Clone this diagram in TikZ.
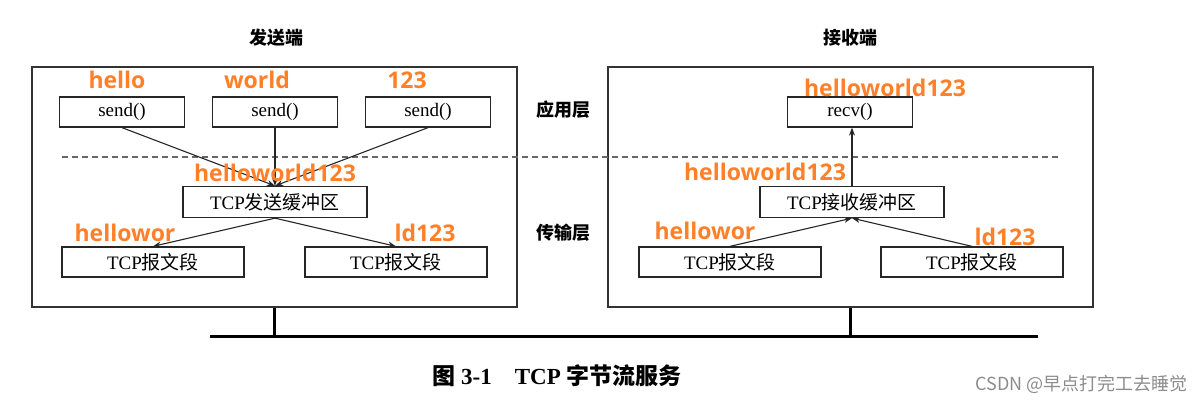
\documentclass[tikz,border=0pt]{standalone}
\usepackage{fontspec}
\setmainfont{Liberation Serif}
\newfontfamily\cjk{Noto Sans CJK SC}
\newfontfamily\lblfont{Open Sans}
\usetikzlibrary{arrows.meta}
\definecolor{lblorange}{RGB}{255,128,40}

\begin{document}
\begin{tikzpicture}[x=1pt, y=-1pt, every node/.style={font=\fontsize{19}{21}\selectfont}, >={Stealth[length=8pt,width=6pt]},
	hostbox/.style={draw=black!80, line width=1.3pt, minimum width=485pt, minimum height=240pt, inner sep=0pt},
	callbox/.style={draw=black!85, line width=1.3pt, minimum width=125pt, minimum height=30pt, inner sep=0pt},
	bufbox/.style={draw=black!85, line width=1.3pt, minimum width=184pt, minimum height=31pt, inner sep=0pt},
	segbox/.style={draw=black!85, line width=1.3pt, minimum width=182pt, minimum height=30pt, inner sep=0pt},
	layerlbl/.style={font=\cjk\bfseries\fontsize{18}{20}\selectfont},
	datalbl/.style={text=lblorange, font=\lblfont\bfseries\fontsize{23}{25}\selectfont, inner sep=0pt},
	conn/.style={->, black!85, line width=1.1pt}]
	\useasboundingbox (0,0) rectangle (1203,404);
	% hosts
	\node[hostbox] (sender) at (274.5,187) {};
	\node[hostbox] (receiver) at (850.5,187) {};
	\node[layerlbl] (sendtitle) at (276,38) {发送端};
	\node[layerlbl] (recvtitle) at (850,38) {接收端};
	\node[layerlbl] (applayer) at (563,110) {应用层};
	\node[layerlbl] (tranlayer) at (563,233) {传输层};
	\coordinate (dashL) at (62,157);
	\coordinate (dashR) at (1060,157);
	\draw[black!60, line width=1.4pt, dash pattern=on 6pt off 4pt] (dashL) -- (dashR);
	% sender side
	\node[callbox] (send1) at (122,112) {send()};
	\node[callbox] (send2) at (275,112) {send()};
	\node[callbox] (send3) at (428,112) {send()};
	\node[bufbox] (sbuf) at (275,202) {TCP{\cjk 发送缓冲区}};
	\node[segbox] (sseg1) at (153,262) {TCP{\cjk 报文段}};
	\node[segbox] (sseg2) at (396,262) {TCP{\cjk 报文段}};
	\draw[conn] (send1.south) -- (sbuf.north);
	\draw[conn] (send2.south) -- (sbuf.north);
	\draw[conn] (send3.south) -- (sbuf.north);
	\draw[conn] (sbuf.south) -- (sseg1.north);
	\draw[conn] (sbuf.south) -- (sseg2.north);
	\node[datalbl] (l1) at (117,80) {hello};
	\node[datalbl] (l2) at (257,80) {world};
	\node[datalbl] (l3) at (407,80) {123};
	\node[datalbl] (l4) at (275,173) {helloworld123};
	\node[datalbl] (l5) at (125,233) {hellowor};
	\node[datalbl] (l6) at (425,233) {ld123};
	% receiver side
	\node[callbox] (recv) at (850,112) {recv()};
	\node[bufbox] (rbuf) at (852,202) {TCP{\cjk 接收缓冲区}};
	\node[segbox] (rseg1) at (730,262) {TCP{\cjk 报文段}};
	\node[segbox] (rseg2) at (972,262) {TCP{\cjk 报文段}};
	\draw[conn] (rbuf.north) -- (rbuf.north |- recv.south);
	\draw[conn] (rseg1.north) -- (rbuf.south);
	\draw[conn] (rseg2.north) -- (rbuf.south);
	\node[datalbl] (r1) at (885,88) {helloworld123};
	\node[datalbl] (r2) at (765,172) {helloworld123};
	\node[datalbl] (r3) at (705,231) {hellowor};
	\node[datalbl] (r4) at (1005,237) {ld123};
	% network
	\coordinate (busL) at (210,336);
	\coordinate (busR) at (1038,336);
	\draw[line width=3pt] (busL) -- (busR);
	\draw[line width=2.4pt] (sender.south) -- (sender.south |- busL);
	\draw[line width=2.4pt] (receiver.south) -- (receiver.south |- busL);
	\node[font=\fontsize{23}{25}\selectfont\bfseries] (caption) at (557,376) {{\cjk 图} 3-1\quad TCP {\cjk 字节流服务}};
	\node[text=black!45, font=\cjk\fontsize{18}{20}\selectfont, anchor=east] (mark) at (1191,384) {CSDN @早点打完工去睡觉};
\end{tikzpicture}
\end{document}
